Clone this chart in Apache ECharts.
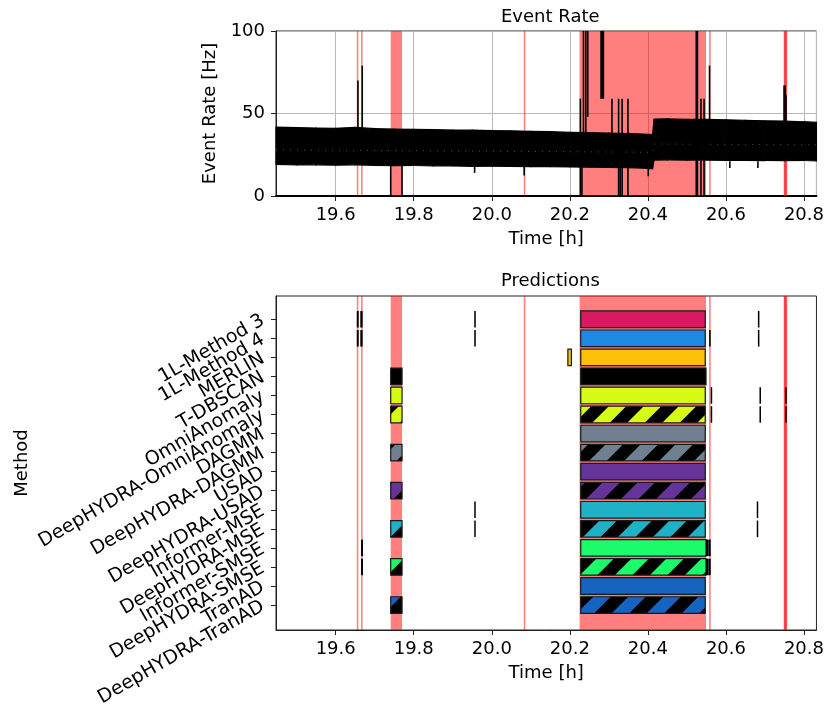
<!doctype html>
<html>
<head>
    <meta charset="utf-8">
    <title>Event Rate / Predictions</title>
    <script type="text/javascript" src="https://cdn.jsdelivr.net/npm/echarts@6/dist/echarts.min.js"></script>
    <style>
        html, body { margin: 0; padding: 0; background: #fff; }
        #container { width: 827px; height: 715px; }
    </style>
</head>
<body>
<div id="container"></div>
<script type="text/javascript">

    /* event rate band (envelope) */
    var rateTime = [19.447, 19.50, 19.55, 19.60, 19.65, 19.70, 19.75, 19.80, 19.85, 19.90, 19.95, 20.00, 20.05, 20.10, 20.15,
        20.20, 20.25, 20.30, 20.35, 20.40, 20.412, 20.416, 20.45, 20.50, 20.55, 20.60, 20.65, 20.70, 20.75, 20.80, 20.832];
    var rateHigh = [41.8, 41.5, 41.2, 41.0, 41.6, 40.8, 40.6, 40.4, 40.3, 40.0, 39.9, 39.6, 39.5, 39.2, 39.0,
        38.6, 38.4, 38.1, 37.9, 37.4, 37.2, 46.6, 46.8, 46.5, 46.4, 46.2, 45.9, 45.6, 45.4, 45.0, 44.6];
    var rateLow = [19.2, 18.8, 18.9, 18.7, 18.9, 18.6, 18.4, 18.5, 18.3, 18.2, 18.0, 18.1, 17.9, 17.8, 17.8,
        17.6, 17.5, 17.4, 17.2, 16.8, 16.5, 21.8, 21.9, 21.7, 21.8, 21.6, 21.6, 21.5, 21.4, 21.5, 21.3];
    var midTime = [19.447, 20.412, 20.416, 20.832];
    var midRate = [28.0, 26.5, 31.5, 31.0];

    /* spikes / drops of the event rate */
    var spikeTime = [19.657, 19.668, 19.741, 19.770, 19.956, 20.083, 20.227, 20.231, 20.235, 20.241, 20.246, 20.280, 20.283, 20.286,
        20.308, 20.325, 20.329, 20.334, 20.349, 20.401, 20.524, 20.527, 20.536, 20.544, 20.558, 20.610, 20.682, 20.749, 20.752, 20.754];
    var spikeFrom = [40, 40, 19, 19, 18, 18, 0, 0, 38, 38, 48, 59, 59, 59,
        38, 0, 0, 0, 0, 17, 0, 0, 0, 0, 46, 21, 21, 45, 45, 45];
    var spikeTo = [70, 79, 0, 0, 14, 12.5, 59, 38, 100, 100, 100, 100, 100, 100,
        59, 59, 38, 59, 59, 12, 100, 100, 59, 59, 79, 17, 17, 67, 67, 61];

    /* labelled anomalies (red spans) */
    var anomStart = [19.654, 19.665, 19.741, 20.082, 20.225, 20.557, 20.748, 20.749];
    var anomEnd   = [19.658, 19.669, 19.770, 20.086, 20.549, 20.561, 20.757, 20.756];

    /* methods */
    var methods = ['1L-Method 3', '1L-Method 4', 'MERLIN', 'T-DBSCAN', 'OmniAnomaly', 'DeepHYDRA-OmniAnomaly',
        'DAGMM', 'DeepHYDRA-DAGMM', 'USAD', 'DeepHYDRA-USAD', 'Informer-MSE', 'DeepHYDRA-MSE',
        'Informer-SMSE', 'DeepHYDRA-SMSE', 'TranAD', 'DeepHYDRA-TranAD'];
    var methodColors = ['#d81b60', '#1e88e5', '#ffc107', '#000000', '#d5fc15', '#d5fc15',
        '#708090', '#708090', '#663399', '#663399', '#1fb2c6', '#1fb2c6',
        '#1cfc6a', '#1cfc6a', '#1565c0', '#1565c0'];

    /* predicted anomalous intervals */
    var predRow = [0, 0, 0, 0, 0,
        1, 1, 1, 1, 1, 1,
        2, 2,
        3, 3,
        4, 4, 4, 4, 4,
        5, 5, 5, 5, 5,
        6,
        7, 7,
        8,
        9, 9,
        10, 10, 10,
        11, 11, 11, 11,
        12, 12, 12, 12,
        13, 13, 13, 13, 13,
        14,
        15, 15];
    var predStart = [19.654, 19.663, 19.955, 20.228, 20.682,
        19.654, 19.663, 19.955, 20.228, 20.557, 20.682,
        20.195, 20.228,
        19.741, 20.228,
        19.741, 20.228, 20.561, 20.686, 20.752,
        19.741, 20.228, 20.561, 20.686, 20.752,
        20.228,
        19.741, 20.228,
        20.228,
        19.741, 20.228,
        19.955, 20.228, 20.679,
        19.741, 19.955, 20.228, 20.679,
        19.665, 20.228, 20.549, 20.555,
        19.665, 19.741, 20.228, 20.549, 20.555,
        20.228,
        19.741, 20.228];
    var predEnd = [19.659, 19.669, 19.959, 20.547, 20.685,
        19.659, 19.669, 19.959, 20.547, 20.561, 20.685,
        20.204, 20.547,
        19.770, 20.549,
        19.770, 20.547, 20.564, 20.689, 20.755,
        19.770, 20.547, 20.564, 20.689, 20.755,
        20.547,
        19.770, 20.547,
        20.547,
        19.770, 20.547,
        19.958, 20.547, 20.682,
        19.770, 19.958, 20.547, 20.682,
        19.670, 20.549, 20.555, 20.561,
        19.670, 19.770, 20.549, 20.555, 20.561,
        20.547,
        19.770, 20.547];

    var rowValues = methods.map(function (m, i) { return i; });
    // empty guard labels at both ends keep ECharts from hiding the first/last method label
    var labelValues = [-1].concat(rowValues, [methods.length]);
    var font = 'DejaVu Sans';

    // hatch '/' : black ground, coloured stripes
    function makeHatch(color) {
        var p = 35;
        var c = document.createElement('canvas');
        c.width = p; c.height = p;
        var g = c.getContext('2d');
        g.fillStyle = '#000';
        g.fillRect(0, 0, p, p);
        g.fillStyle = color;
        for (var o = -p; o <= 0; o += p) {
            g.beginPath();
            g.moveTo(o, p); g.lineTo(o + p / 2, p); g.lineTo(o + p * 1.5, 0); g.lineTo(o + p, 0);
            g.closePath(); g.fill();
        }
        return c;
    }
    var hatches = methodColors.map(function (c) { return makeHatch(c); });

    function renderSpan(params, api) {
        var cs = params.coordSys;
        var a = api.coord([api.value(0), 0]);
        var b = api.coord([api.value(1), 0]);
        var x0 = Math.max(a[0], cs.x), x1 = Math.min(b[0], cs.x + cs.width);
        return {
            type: 'rect',
            shape: {x: x0, y: cs.y, width: Math.max(x1 - x0, 1.2), height: cs.height},
            style: {fill: 'rgba(255,0,0,0.5)'}
        };
    }

    // one quad of the noisy band between point i and i+1
    function renderBand(params, api) {
        var i = params.dataIndexInside;
        if (i >= params.dataInsideLength - 1) return null;
        var t0 = api.value(0, i), t1 = api.value(0, i + 1);
        var pts = [
            api.coord([t0, api.value(1, i)]),
            api.coord([t1, api.value(1, i + 1)]),
            api.coord([t1, api.value(2, i + 1)]),
            api.coord([t0, api.value(2, i)])
        ];
        return {
            type: 'polygon',
            shape: {points: pts},
            style: {fill: '#000', stroke: '#000', lineWidth: 1.2}
        };
    }

    function renderSpike(params, api) {
        var a = api.coord([api.value(0), api.value(1)]);
        var b = api.coord([api.value(0), api.value(2)]);
        return {
            type: 'line',
            shape: {x1: a[0], y1: a[1], x2: b[0], y2: b[1]},
            style: {stroke: '#000', lineWidth: 1.6}
        };
    }

    function renderPred(params, api) {
        var row = api.value(2);
        var a = api.coord([api.value(0), row]);
        var b = api.coord([api.value(1), row]);
        var h = Math.abs(api.size([0, 0.87])[1]);
        var w = b[0] - a[0];
        if (w < 3) {
            return {type: 'rect', shape: {x: a[0], y: a[1] - h / 2, width: Math.max(w, 1.5), height: h},
                style: {fill: '#000'}};
        }
        var hatch = methods[row].indexOf('DeepHYDRA') === 0;
        return {
            type: 'rect',
            shape: {x: a[0], y: a[1] - h / 2, width: w, height: h},
            style: {
                fill: hatch ? {image: hatches[row], repeat: 'repeat'} : methodColors[row],
                stroke: '#1a1a1a', lineWidth: 1.2
            }
        };
    }

    var spanData = anomStart.map(function (s, i) { return [s, anomEnd[i]]; });
    var tickFont = {fontSize: 18, color: '#000', fontFamily: font};

    var dom = document.getElementById("container");
    var myChart = echarts.init(dom);
    var option = {
        animation: false,
        textStyle: {fontFamily: font},
        title: [
            {text: 'Event Rate', left: 496, top: 3, textStyle: {fontFamily: font, fontSize: 18, fontWeight: 'normal', color: '#000'}},
            {text: 'Predictions', left: 496, top: 267, textStyle: {fontFamily: font, fontSize: 18, fontWeight: 'normal', color: '#000'}}
        ],
        grid: [
            {left: 276, right: 10, top: 31, height: 165, show: true, borderColor: '#222', borderWidth: 1},
            {left: 276, right: 10, top: 296, height: 334, show: true, borderColor: '#222', borderWidth: 1}
        ],
        xAxis: [
            {
                gridIndex: 0, type: 'value', min: 19.447, max: 20.832, splitNumber: 7,
                name: 'Time [h]', nameLocation: 'middle', nameGap: 34, nameTextStyle: tickFont,
                axisLine: {onZero: false, lineStyle: {color: '#000', width: 2}},
                axisTick: {length: 5, lineStyle: {color: '#222'}},
                axisLabel: {fontSize: 18, color: '#000', margin: 10, showMinLabel: false, showMaxLabel: false,
                    formatter: function (v) { return v.toFixed(1); }},
                splitLine: {show: true, lineStyle: {color: '#b8b8b8', width: 1}}
            },
            {
                gridIndex: 1, type: 'value', min: 19.447, max: 20.832, splitNumber: 7,
                name: 'Time [h]', nameLocation: 'middle', nameGap: 34, nameTextStyle: tickFont,
                axisLine: {onZero: false, lineStyle: {color: '#222', width: 1}},
                axisTick: {length: 5, lineStyle: {color: '#222'}},
                axisLabel: {fontSize: 18, color: '#000', margin: 10, showMinLabel: false, showMaxLabel: false,
                    formatter: function (v) { return v.toFixed(1); }},
                splitLine: {show: false}
            }
        ],
        yAxis: [
            {
                gridIndex: 0, type: 'value', min: 0, max: 100, interval: 50,
                name: 'Event Rate [Hz]', nameLocation: 'middle', nameGap: 54, nameRotate: 90, nameTextStyle: tickFont,
                axisLine: {show: true, onZero: false, lineStyle: {color: '#222'}},
                axisTick: {show: true, length: 5, lineStyle: {color: '#222'}},
                axisLabel: {fontSize: 18, color: '#000', margin: 11},
                splitLine: {show: true, lineStyle: {color: '#b8b8b8', width: 1}}
            },
            {
                gridIndex: 1, type: 'value', inverse: true, min: -1.22, max: 16.31,
                name: 'Method', nameLocation: 'middle', nameGap: 245, nameRotate: 90, nameTextStyle: tickFont,
                nameMoveOverlap: false,
                axisLine: {show: true, onZero: false, lineStyle: {color: '#222'}},
                axisTick: {show: true, length: 5, lineStyle: {color: '#222'}, customValues: rowValues},
                axisLabel: {fontSize: 19, color: '#000', margin: 13, rotate: 30, customValues: labelValues,
                    showMinLabel: false, showMaxLabel: false, hideOverlap: false,
                    formatter: function (v) { var m = methods[Math.round(v)]; return m ? m : ''; }},
                splitLine: {show: false}
            }
        ],
        series: [
            {
                name: 'anomaly', type: 'custom', xAxisIndex: 0, yAxisIndex: 0, z: 1,
                renderItem: renderSpan, encode: {x: [0, 1]}, data: spanData, silent: true
            },
            {
                name: 'band', type: 'custom', xAxisIndex: 0, yAxisIndex: 0, z: 3,
                renderItem: renderBand, encode: {x: 0, y: [1, 2]},
                data: rateTime.map(function (t, i) { return [t, rateLow[i], rateHigh[i]]; })
            },
            {
                name: 'mid', type: 'line', xAxisIndex: 0, yAxisIndex: 0, symbol: 'none', z: 4,
                lineStyle: {color: 'rgba(150,150,150,0.55)', width: 1, type: [1, 6]},
                data: midTime.map(function (t, i) { return [t, midRate[i]]; })
            },
            {
                name: 'spikes', type: 'custom', xAxisIndex: 0, yAxisIndex: 0, z: 5,
                renderItem: renderSpike, encode: {x: 0, y: [1, 2]},
                data: spikeTime.map(function (t, i) { return [t, spikeFrom[i], spikeTo[i]]; })
            },
            {
                name: 'anomaly2', type: 'custom', xAxisIndex: 1, yAxisIndex: 1, z: 1,
                renderItem: renderSpan, encode: {x: [0, 1]}, data: spanData, silent: true
            },
            {
                name: 'predictions', type: 'custom', xAxisIndex: 1, yAxisIndex: 1, z: 3,
                renderItem: renderPred, encode: {x: [0, 1], y: 2},
                data: predRow.map(function (r, i) { return [predStart[i], predEnd[i], r]; })
            }
        ]
    };

    if (option && typeof option === "object") {
        myChart.setOption(option, true);
    }
</script>
</body>
</html>
